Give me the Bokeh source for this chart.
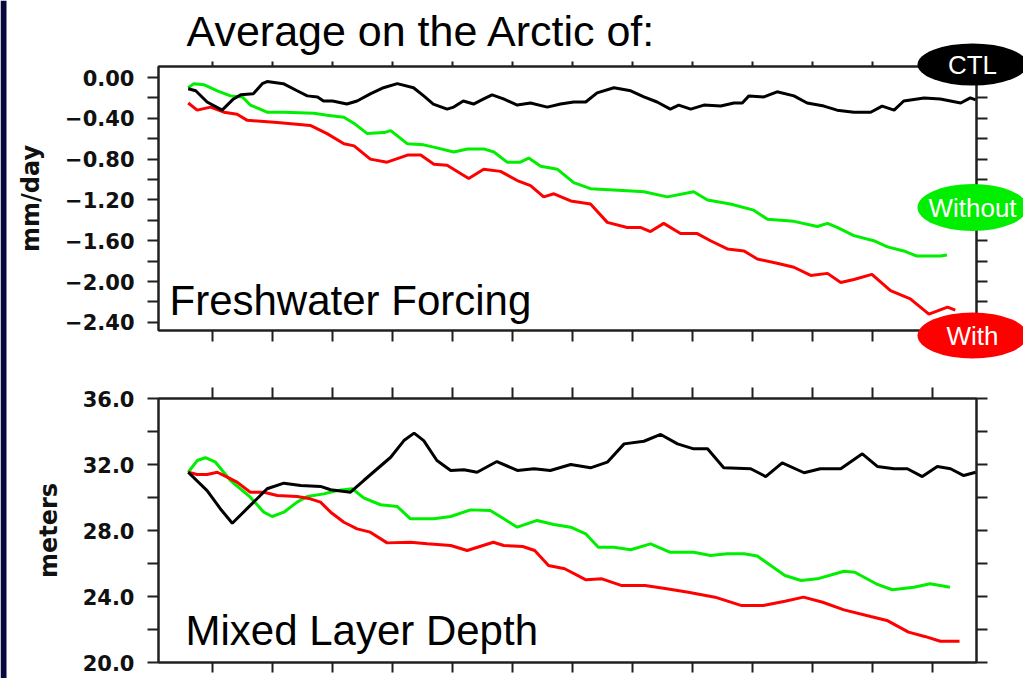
from bokeh.plotting import figure
from bokeh.models import Range1d, LinearAxis, FixedTicker, CustomJSTickFormatter, GridBox
from bokeh.core.properties import value
from bokeh.embed import file_html
from bokeh.resources import INLINE

# ---------------- data ----------------
x_ticks = [10, 20, 30, 40, 50, 60, 70, 80, 90, 100, 110, 120, 130]

fw_ticks = [0.0, -0.4, -0.8, -1.2, -1.6, -2.0, -2.4]
fw_minor = [-0.2, -0.6, -1.0, -1.4, -1.8, -2.2]
fw_right = fw_ticks + fw_minor

mld_ticks = [20, 24, 28, 32, 36]
mld_minor = [22, 26, 30, 34]
mld_right = mld_ticks + mld_minor

# Freshwater forcing (mm/day)
fw_ctl_x = [5.95, 7.2, 9.1, 11.6, 13.5, 14.7, 16.8, 18.3, 19.1, 21.8, 24.1, 25.8, 27.5, 28.5, 30.0,
            32.4, 34.1, 36.3, 38.5, 40.8, 43.5, 45.2, 46.8, 49.1, 50.2, 51.8, 53.5, 55.2, 56.6, 58.5,
            60.8, 63.0, 65.8, 68.0, 70.2, 72.2, 74.1, 76.9, 79.7, 81.9, 84.1, 86.3, 87.7, 89.7, 91.9,
            94.7, 96.9, 98.3, 99.4, 101.9, 104.1, 106.9, 109.1, 111.9, 114.1, 116.9, 119.7, 121.6,
            123.6, 125.2, 128.6, 131.3, 134.7, 136.3, 137.2]
fw_ctl_y = [-0.11, -0.13, -0.24, -0.32, -0.21, -0.17, -0.16, -0.06, -0.04, -0.06, -0.13, -0.18, -0.19,
            -0.23, -0.23, -0.26, -0.23, -0.16, -0.10, -0.06, -0.10, -0.18, -0.26, -0.31, -0.29, -0.23,
            -0.26, -0.21, -0.17, -0.21, -0.27, -0.25, -0.29, -0.26, -0.24, -0.24, -0.15, -0.10, -0.13,
            -0.19, -0.24, -0.31, -0.27, -0.31, -0.27, -0.28, -0.25, -0.25, -0.18, -0.19, -0.14, -0.18,
            -0.25, -0.28, -0.32, -0.34, -0.34, -0.28, -0.32, -0.23, -0.20, -0.21, -0.25, -0.20, -0.22]

fw_without_x = [5.95, 6.9, 8.55, 10.8, 13.0, 14.95, 16.3, 19.1, 21.9, 26.9, 29.1, 31.9, 33.6, 35.8,
                38.6, 39.7, 42.5, 45.2, 47.4, 50.2, 52.5, 55.2, 56.9, 59.1, 61.3, 62.7, 64.7, 67.5,
                70.2, 73.0, 79.1, 81.9, 85.8, 90.2, 92.5, 96.3, 100.2, 102.5, 106.9, 110.8, 112.5,
                114.1, 116.9, 120.2, 122.5, 125.2, 127.4, 131.3, 132.4]
fw_without_y = [-0.10, -0.06, -0.07, -0.13, -0.18, -0.19, -0.27, -0.34, -0.34, -0.35, -0.37, -0.39,
                -0.45, -0.55, -0.54, -0.52, -0.65, -0.66, -0.69, -0.73, -0.70, -0.70, -0.73, -0.83,
                -0.83, -0.79, -0.87, -0.90, -1.03, -1.09, -1.11, -1.12, -1.17, -1.12, -1.20, -1.24,
                -1.30, -1.39, -1.41, -1.46, -1.43, -1.47, -1.55, -1.60, -1.66, -1.70, -1.75, -1.75, -1.74]

fw_with_x = [5.95, 7.45, 9.67, 11.9, 14.1, 15.8, 20.8, 26.3, 29.1, 31.9, 33.6, 36.3, 39.1, 42.5, 44.7,
             46.9, 49.1, 52.7, 55.2, 58.0, 60.8, 63.0, 65.2, 66.9, 69.7, 73.0, 75.8, 79.1, 81.3, 83.0,
             85.2, 88.0, 90.8, 93.0, 95.8, 98.6, 100.8, 104.1, 106.9, 109.7, 112.5, 114.7, 116.9,
             119.9, 123.0, 126.3, 129.4, 132.5, 133.8]
fw_with_y = [-0.25, -0.32, -0.29, -0.34, -0.36, -0.42, -0.44, -0.47, -0.55, -0.65, -0.67, -0.80, -0.83,
             -0.76, -0.76, -0.85, -0.86, -0.99, -0.90, -0.92, -1.01, -1.06, -1.17, -1.14, -1.21, -1.24,
             -1.42, -1.47, -1.47, -1.51, -1.43, -1.53, -1.53, -1.60, -1.68, -1.70, -1.78, -1.82, -1.86,
             -1.94, -1.92, -2.01, -1.98, -1.93, -2.09, -2.17, -2.32, -2.25, -2.28]

# Mixed layer depth (meters)
mld_ctl_x = [5.95, 9.1, 11.3, 13.3, 16.3, 19.1, 21.9, 24.7, 28.0, 29.7, 33.0, 35.2, 39.7, 41.9, 43.6,
             45.2, 47.4, 49.7, 51.9, 54.1, 57.4, 60.8, 63.6, 66.3, 69.7, 73.0, 75.8, 78.6, 81.9, 84.7,
             87.5, 90.2, 92.5, 95.2, 99.7, 102.2, 104.95, 108.6, 111.3, 114.7, 118.3, 120.8, 123.6,
             125.8, 128.3, 130.8, 133.0, 135.2, 137.2]
mld_ctl_y = [31.53, 30.42, 29.32, 28.44, 29.52, 30.53, 30.87, 30.73, 30.67, 30.47, 30.32, 31.03, 32.44,
             33.45, 33.90, 33.45, 32.24, 31.64, 31.68, 31.53, 32.18, 31.64, 31.74, 31.64, 32.0, 31.8,
             32.14, 33.25, 33.41, 33.82, 33.25, 32.95, 32.95, 31.8, 31.74, 31.27, 32.1, 31.5, 31.74,
             31.74, 32.65, 31.88, 31.74, 31.74, 31.27, 31.88, 31.74, 31.33, 31.53]

mld_without_x = [5.95, 7.45, 8.83, 10.5, 13.0, 16.3, 18.55, 19.95, 21.9, 24.1, 25.8, 28.55, 30.8, 33.3,
                 35.2, 38.0, 40.8, 43.0, 46.9, 49.7, 53.0, 56.3, 58.55, 60.8, 64.1, 66.9, 69.7, 72.2,
                 74.3, 76.9, 79.7, 83.0, 86.3, 90.2, 93.0, 95.8, 98.6, 100.8, 105.4, 108.1, 110.8,
                 115.25, 117.05, 120.6, 123.3, 126.9, 129.6, 132.9]
mld_without_y = [31.53, 32.24, 32.41, 32.14, 31.03, 30.02, 29.11, 28.85, 29.11, 29.72, 30.06, 30.22,
                 30.42, 30.53, 29.98, 29.56, 29.45, 28.71, 28.71, 28.85, 29.25, 29.21, 28.71, 28.2,
                 28.61, 28.36, 28.2, 27.8, 26.99, 26.99, 26.83, 27.19, 26.68, 26.68, 26.48, 26.59,
                 26.59, 26.45, 25.27, 24.97, 25.07, 25.53, 25.47, 24.77, 24.41, 24.56, 24.77, 24.56]

mld_with_x = [5.95, 7.45, 9.1, 10.8, 12.45, 14.1, 16.3, 18.55, 20.8, 24.1, 26.3, 28.0, 29.7, 31.9, 34.1,
              36.3, 39.1, 43.0, 45.8, 49.7, 52.45, 56.8, 58.55, 61.7, 63.7, 66.0, 68.7, 72.25, 74.9,
              78.1, 82.1, 85.7, 89.3, 93.75, 98.2, 101.8, 105.4, 108.5, 111.7, 115.25, 119.7, 122.4,
              126.0, 128.7, 131.3, 134.5]
mld_with_y = [31.53, 31.39, 31.39, 31.53, 31.23, 30.93, 30.32, 30.32, 30.12, 30.06, 29.92, 29.72, 29.11,
              28.5, 28.1, 27.9, 27.25, 27.29, 27.19, 27.09, 26.79, 27.29, 27.09, 27.03, 26.79, 25.88,
              25.68, 25.01, 25.07, 24.67, 24.67, 24.47, 24.26, 23.96, 23.45, 23.45, 23.71, 23.96,
              23.65, 23.19, 22.79, 22.55, 21.84, 21.58, 21.29, 21.29]

legend_names = ["CTL", "Without", "With"]
legend_colors = ["#000000", "#00ee00", "#ff0000"]

title_text = "Average on the Arctic of:"
panel_titles = ["Freshwater Forcing", "Mixed Layer Depth"]
y_labels = ["mm/day", "meters"]

# ---------------- layout constants (pixels) ----------------
W, H = 1023, 678
TOP_H, BOT_H = 368, 310
AXIS_COLOR = "#202020"
X_START, X_END = 1.0, 137.33

# decorations on the transparent overlay (pixel coordinates, y downwards)
legend_cx = [972, 972, 972]
legend_cy = [64, 207, 335]
legend_w = [110, 110, 110]
legend_h = [42, 47, 46]
title_pos = (186, 30)
panel_title_x = [169, 185]
panel_title_y = [300, 630]


def make_fig(height, y_start, y_end, border_top, border_bottom):
    p = figure(width=W, height=height,
               x_range=Range1d(X_START, X_END), y_range=Range1d(y_start, y_end),
               output_backend="svg", toolbar_location=None,
               x_axis_location=None, y_axis_location=None,
               min_border_left=158, min_border_right=47,
               min_border_top=border_top, min_border_bottom=border_bottom,
               background_fill_color="white", border_fill_color="white")
    p.grid.visible = False
    p.outline_line_color = AXIS_COLOR
    p.outline_line_width = 2
    return p


def add_axis(p, side, ticks, minor, tick_out, fmt=None, label=None):
    ax = LinearAxis(ticker=FixedTicker(ticks=ticks, minor_ticks=minor))
    ax.major_tick_in = 0
    ax.major_tick_out = tick_out
    ax.minor_tick_in = 0
    ax.minor_tick_out = tick_out
    ax.axis_line_color = AXIS_COLOR
    ax.axis_line_width = 2
    ax.major_tick_line_color = AXIS_COLOR
    ax.major_tick_line_width = 2
    ax.minor_tick_line_color = AXIS_COLOR
    ax.minor_tick_line_width = 2
    if fmt is not None:
        ax.formatter = CustomJSTickFormatter(code=fmt)
        ax.major_label_text_font = "DejaVu Sans"
        ax.major_label_text_font_style = "bold"
        ax.major_label_text_font_size = "21px"
        ax.major_label_text_color = "#111111"
        ax.major_label_standoff = 13
    else:
        ax.formatter = CustomJSTickFormatter(code="return ''")
        ax.major_label_text_font_size = "1px"
        ax.major_label_standoff = 0
    if label is not None:
        ax.axis_label = label
        ax.axis_label_text_font = "DejaVu Sans"
        ax.axis_label_text_font_size = "24px"
        ax.axis_label_text_font_style = "bold"
        ax.axis_label_text_color = "#111111"
        ax.axis_label_standoff = 17
    p.add_layout(ax, side)
    return ax


# ---------------- top panel ----------------
p1 = make_fig(TOP_H, -2.48, 0.108, 66, 38)
add_axis(p1, "left", fw_ticks, fw_minor, 11,
         fmt="return tick.toFixed(2).replace('-', '\u2212')", label=y_labels[0])
add_axis(p1, "right", fw_right, [], 11)
add_axis(p1, "above", x_ticks, [], 5)
add_axis(p1, "below", x_ticks, [], 11)

p1.line(fw_without_x, fw_without_y, line_color=legend_colors[1], line_width=3)
p1.line(fw_with_x, fw_with_y, line_color=legend_colors[2], line_width=3)
p1.line(fw_ctl_x, fw_ctl_y, line_color=legend_colors[0], line_width=3)

# ---------------- bottom panel ----------------
p2 = make_fig(BOT_H, 20, 36, 30, 16)
add_axis(p2, "left", mld_ticks, mld_minor, 11,
         fmt="return tick.toFixed(1)", label=y_labels[1])
add_axis(p2, "right", mld_right, [], 11)
add_axis(p2, "above", x_ticks, [], 11)
add_axis(p2, "below", x_ticks, [], 10)

p2.line(mld_without_x, mld_without_y, line_color=legend_colors[1], line_width=3)
p2.line(mld_with_x, mld_with_y, line_color=legend_colors[2], line_width=3)
p2.line(mld_ctl_x, mld_ctl_y, line_color=legend_colors[0], line_width=3)

# ---------------- transparent overlay: titles, legend ovals, side strip ----------------
ov = figure(width=W, height=H, x_range=Range1d(0, W), y_range=Range1d(H, 0),
            output_backend="svg", toolbar_location=None,
            x_axis_location=None, y_axis_location=None, min_border=0,
            background_fill_color=None, border_fill_color=None, outline_line_color=None)
ov.grid.visible = False
if "frame_align" in ov.properties():
    ov.frame_align = False

ov.quad(left=[0], right=[6], top=[0], bottom=[H], fill_color="#08083c", line_color=None)
ov.text(x=[title_pos[0]], y=[title_pos[1]], text=[title_text], text_font=value("Liberation Sans"),
        text_font_size=value("43px"), text_color="black",
        text_align="left", text_baseline="alphabetic")
ov.text(x=panel_title_x, y=panel_title_y, text=panel_titles, text_font=value("Liberation Sans"),
        text_font_size=value("42px"), text_color="black",
        text_align="left", text_baseline="alphabetic")
ov.ellipse(x=legend_cx, y=legend_cy, width=legend_w, height=legend_h,
           fill_color=legend_colors, line_color=None)
ov.text(x=legend_cx, y=legend_cy, text=legend_names, text_font=value("Liberation Sans"),
        text_font_size=value("26px"), text_color="white",
        text_align="center", text_baseline="middle")

layout = GridBox(children=[(p1, 0, 0), (p2, 1, 0), (ov, 0, 0, 2, 1)], spacing=0)
open("out.html", "w").write(file_html(layout, INLINE))
